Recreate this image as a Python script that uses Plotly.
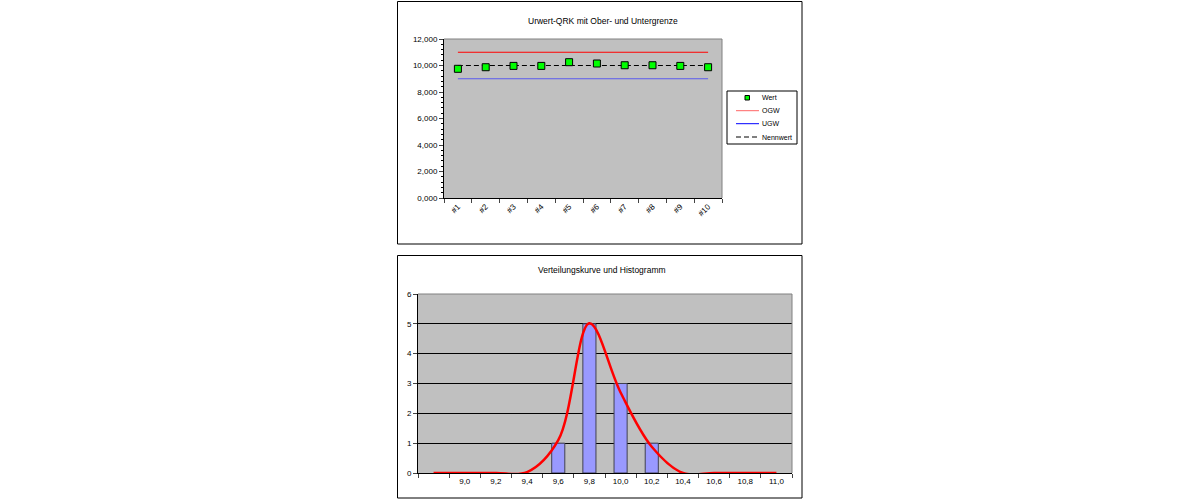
import plotly.graph_objects as go

# =======================
# Dati
# =======================
messungen = ["#1", "#2", "#3", "#4", "#5", "#6", "#7", "#8", "#9", "#10"]
wert = [9.75, 9.87, 9.97, 9.97, 10.25, 10.15, 10.02, 10.02, 9.97, 9.87]
ogw = [11.0] * 10
ugw = [9.0] * 10
nennwert = [10.0] * 10

klassen = [" ", "9,0", "9,2", "9,4", "9,6", "9,8", "10,0", "10,2", "10,4", "10,6", "10,8", "11,0"]
haeufigkeit = [0, 0, 0, 0, 1, 5, 3, 1, 0, 0, 0, 0]
verteilung = [0.0, 0.0, 0.0, 0.03, 1.1, 5.02, 2.7, 0.88, 0.0, 0.0, 0.0, 0.0]

FONT = "Liberation Sans, Arial, sans-serif"
W, H = 1200, 500


def px(x):
    """Pixel della pagina -> coordinata paper orizzontale."""
    return x / W


def py(y):
    """Pixel della pagina -> coordinata paper verticale."""
    return 1 - y / H


fig = go.Figure()

# --- Grafico superiore: Urwert-QRK ---
fig.add_trace(go.Scatter(x=messungen, y=ogw, name="OGW", mode="lines",
                         line=dict(color="#FF0000", width=1), xaxis="x", yaxis="y"))
fig.add_trace(go.Scatter(x=messungen, y=ugw, name="UGW", mode="lines",
                         line=dict(color="#5A5AEE", width=1), xaxis="x", yaxis="y"))
fig.add_trace(go.Scatter(x=messungen, y=nennwert, name="Nennwert", mode="lines",
                         line=dict(color="black", width=1, dash="5px,3px"), xaxis="x", yaxis="y"))
fig.add_trace(go.Scatter(x=messungen, y=wert, name="Wert", mode="markers",
                         marker=dict(symbol="square", size=7, color="#00FF00",
                                     line=dict(color="black", width=1)),
                         xaxis="x", yaxis="y"))

# --- Grafico inferiore: Verteilungskurve und Histogramm ---
fig.add_trace(go.Bar(
    x=klassen, y=[h if h else None for h in haeufigkeit],
    marker=dict(color="#9999FF", line=dict(color="#404050", width=1)),
    xaxis="x2", yaxis="y2"
))
fig.add_trace(go.Scatter(
    x=klassen, y=verteilung, mode="lines",
    line=dict(color="#FF0000", width=2.5, shape="spline", smoothing=1),
    xaxis="x2", yaxis="y2"
))

tick_font = dict(family=FONT, size=8, color="black")

fig.update_layout(
    width=W, height=H,
    margin=dict(l=0, r=0, t=0, b=0),
    paper_bgcolor="white",
    plot_bgcolor="#C0C0C0",
    separators=",.",
    font=dict(family=FONT, size=8, color="black"),
    showlegend=False,
    bargap=0.58,
    xaxis=dict(
        domain=[px(444), px(722)], anchor="y", type="category",
        range=[-0.5, 9.5], tickson="boundaries", ticks="outside", ticklen=4,
        tickangle=-45, tickfont=tick_font, showline=True, linecolor="black",
        showgrid=False, zeroline=False, automargin=False, fixedrange=True
    ),
    yaxis=dict(
        domain=[py(198), py(39)], anchor="x",
        range=[0, 12], dtick=2, tickformat=".3f", ticks="outside", ticklen=4,
        minor=dict(dtick=0.4, ticks="outside", ticklen=2, tickcolor="black", showgrid=False),
        tickfont=tick_font, showline=True, linecolor="black",
        showgrid=False, zeroline=False, automargin=False
    ),
    xaxis2=dict(
        domain=[px(418), px(792)], anchor="y2", type="category",
        range=[-0.5, 11.5], tickson="boundaries", ticks="outside", ticklen=4,
        tickangle=0, tickfont=tick_font, showline=True, linecolor="black",
        showgrid=False, zeroline=False, automargin=False
    ),
    yaxis2=dict(
        domain=[py(473), py(294)], anchor="x2",
        range=[0, 6], dtick=1, ticks="outside", ticklen=4,
        tickfont=tick_font, showline=True, linecolor="black",
        showgrid=True, gridcolor="black", gridwidth=1, zeroline=False, automargin=False
    ),
)

# Cornici dei due grafici
for top, bottom in [(1.5, 244), (255.5, 498)]:
    fig.add_shape(type="rect", xref="paper", yref="paper",
                  x0=px(397.5), x1=px(802), y0=py(bottom), y1=py(top),
                  line=dict(color="black", width=1), fillcolor="rgba(0,0,0,0)", layer="below")

# Bordo grigio (lato alto e destro) delle aree di disegno
for left, right, top, bottom in [(444, 722, 39, 198), (418, 792, 294, 473)]:
    fig.add_shape(type="line", xref="paper", yref="paper",
                  x0=px(left), x1=px(right), y0=py(top), y1=py(top),
                  line=dict(color="#808080", width=1), layer="above")
    fig.add_shape(type="line", xref="paper", yref="paper",
                  x0=px(right), x1=px(right), y0=py(top), y1=py(bottom),
                  line=dict(color="#808080", width=1), layer="above")

# Legenda disegnata a mano (come in Excel)
fig.add_shape(type="rect", xref="paper", yref="paper",
              x0=px(727), x1=px(797), y0=py(144), y1=py(91),
              line=dict(color="black", width=1), fillcolor="white", layer="above")
legend_items = [("Wert", None, None, 97.7), ("OGW", "#FF6666", "solid", 110.7),
                ("UGW", "#0000FF", "solid", 123.7), ("Nennwert", "black", "5px,3px", 137)]
for label, color, dash, ly in legend_items:
    if color is None:
        fig.add_shape(type="rect", xref="paper", yref="paper",
                      x0=px(745), x1=px(749.5), y0=py(100), y1=py(95.5),
                      line=dict(color="black", width=1), fillcolor="#00FF00", layer="above")
    else:
        fig.add_shape(type="line", xref="paper", yref="paper",
                      x0=px(736), x1=px(759), y0=py(ly), y1=py(ly),
                      line=dict(color=color, width=1, dash=dash), layer="above")
    fig.add_annotation(text=label, xref="paper", yref="paper",
                       x=px(760), y=py(ly), xanchor="left", yanchor="middle",
                       showarrow=False, font=dict(family=FONT, size=7, color="black"))

# Titoli
fig.add_annotation(text="Urwert-QRK mit Ober- und Untergrenze", xref="paper", yref="paper",
                   x=px(603), y=py(14), showarrow=False,
                   font=dict(family=FONT, size=8.5, color="black"))
fig.add_annotation(text="Verteilungskurve und Histogramm", xref="paper", yref="paper",
                   x=px(602), y=py(270), showarrow=False,
                   font=dict(family=FONT, size=8.5, color="black"))

# Niente margine del body, cosi' il grafico parte da (0, 0)
fig.write_html("out.html", config={"displayModeBar": False},
               post_script="document.body.style.margin='0';")
